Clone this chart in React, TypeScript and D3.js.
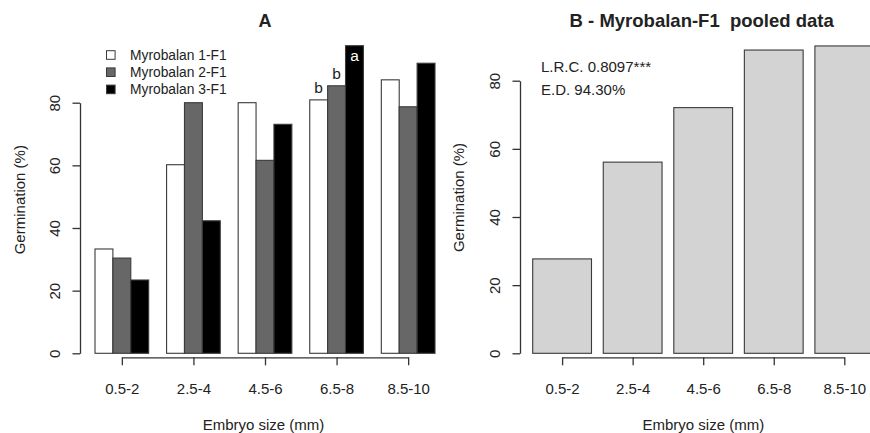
import React, { useEffect, useRef } from "react";
import * as d3 from "d3";

// embryo size classes (mm)
const sizes = ["0.5-2", "2.5-4", "4.5-6", "6.5-8", "8.5-10"];
const seriesNames = ["Myrobalan 1-F1", "Myrobalan 2-F1", "Myrobalan 3-F1"];
const seriesFill = ["#ffffff", "#676767", "#000000"];

// germination (%) per size class
const myro1 = [33.3, 60.2, 80.0, 80.9, 87.3];
const myro2 = [30.4, 80.0, 61.6, 85.4, 78.7];
const myro3 = [23.4, 42.3, 73.1, 98.2, 92.6];
const pooled = [27.7, 56.1, 72.1, 89.0, 90.2];

const yTicks = [0, 20, 40, 60, 80];

// significance letters in panel A
const letters = [
  { size: "6.5-8", series: 0, label: "b" },
  { size: "6.5-8", series: 1, label: "b" },
  { size: "6.5-8", series: 2, label: "a" },
];
const statLines = ["L.R.C. 0.8097***", "E.D. 94.30%"];

const FONT = "'Liberation Sans', Arial, Helvetica, sans-serif";
const INK = "#333";

function yAxis(g, y, x) {
  const ax = g
    .append("g")
    .attr("transform", "translate(" + x + ",0)")
    .call(d3.axisLeft(y).tickValues(yTicks).tickSize(7.5).tickSizeOuter(0));
  ax.select(".domain").attr("stroke", INK).attr("stroke-width", 1.3);
  ax.selectAll(".tick line").attr("stroke", INK).attr("stroke-width", 1.3);
  ax.selectAll(".tick text")
    .attr("transform", "rotate(-90)")
    .attr("x", 0)
    .attr("y", -20)
    .attr("dy", 0)
    .attr("text-anchor", "middle")
    .attr("fill", "#222")
    .style("font-family", FONT)
    .style("font-size", "15px");
}

function xAxis(g, centers, yPos) {
  const p = d3.scalePoint().domain(sizes).range(centers);
  const ax = g
    .append("g")
    .attr("transform", "translate(0," + yPos + ")")
    .call(d3.axisBottom(p).tickSize(8).tickSizeOuter(0));
  ax.select(".domain").attr("stroke", INK).attr("stroke-width", 1.3);
  ax.selectAll(".tick line").attr("stroke", INK).attr("stroke-width", 1.3);
  ax.selectAll(".tick text")
    .attr("y", 36.5)
    .attr("dy", 0)
    .attr("fill", "#222")
    .style("font-family", FONT)
    .style("font-size", "15px");
}

function label(g, text, x, y, opts = {}) {
  const t = g
    .append("text")
    .attr("x", x)
    .attr("y", y)
    .attr("text-anchor", opts.anchor || "middle")
    .attr("fill", opts.fill || "#222")
    .style("font-family", FONT)
    .style("font-size", (opts.size || 15) + "px")
    .style("font-weight", opts.bold ? "bold" : "normal")
    .style("white-space", "pre")
    .text(text);
  if (opts.rotate) t.attr("transform", "rotate(-90," + x + "," + y + ")");
  return t;
}

export default function App() {
  const ref = useRef(null);

  useEffect(() => {
    document.body.style.margin = "0";
    const svg = d3.select(ref.current);
    svg.selectAll("*").remove();

    // ---------- panel A ----------
    const a = svg.append("g");
    const xA = d3.scaleBand().domain(sizes).range([95, 435]).paddingInner(0.25).paddingOuter(0);
    const xInner = d3.scaleBand().domain(d3.range(3)).range([0, xA.bandwidth()]);
    const yA = d3.scaleLinear().domain([0, 80]).range([353.3, 102.7]);
    const dataA = [myro1, myro2, myro3];

    sizes.forEach((s, i) => {
      dataA.forEach((vals, j) => {
        a.append("rect")
          .attr("x", xA(s) + xInner(j))
          .attr("y", yA(vals[i]))
          .attr("width", xInner.bandwidth())
          .attr("height", yA(0) - yA(vals[i]))
          .attr("fill", seriesFill[j])
          .attr("stroke", "#3a3a3a")
          .attr("stroke-width", 1.1);
      });
    });

    letters.forEach(l => {
      const i = sizes.indexOf(l.size);
      const top = yA(dataA[l.series][i]);
      const cx = xA(l.size) + xInner(l.series) + xInner.bandwidth() / 2;
      const inside = l.series === 2;
      label(a, l.label, cx, inside ? top + 15 : top - 7, {
        fill: inside ? "#fff" : "#222",
        size: 15.5,
      });
    });

    yAxis(a, yA, 80);
    xAxis(a, [xA(sizes[0]) + xA.bandwidth() / 2, xA(sizes[4]) + xA.bandwidth() / 2], 357.3);

    // legend
    const leg = a.append("g");
    seriesNames.forEach((n, j) => {
      const cy = 55 + j * 17.2;
      leg.append("rect")
        .attr("x", 106.5)
        .attr("y", cy - 4.3)
        .attr("width", 8.6)
        .attr("height", 8.6)
        .attr("fill", seriesFill[j])
        .attr("stroke", "#3a3a3a")
        .attr("stroke-width", 1);
      label(leg, n, 130, cy + 4.8, { anchor: "start", size: 13.8 });
    });

    label(a, "A", 265, 27, { bold: true, size: 18 });
    label(a, "Embryo size (mm)", 263.5, 430);
    label(a, "Germination (%)", 25.5, 199.7, { rotate: true });

    // ---------- panel B ----------
    const b = svg.append("g");
    const xB = d3.scaleBand().domain(sizes).range([532.7, 873.7]).paddingInner(0.2 / 1.2).paddingOuter(0);
    const yB = d3.scaleLinear().domain([0, 80]).range([353.3, 80.7]);

    b.selectAll(".bar")
      .data(pooled)
      .enter()
      .append("rect")
      .attr("class", "bar")
      .attr("x", (d, i) => xB(sizes[i]))
      .attr("y", d => yB(d))
      .attr("width", xB.bandwidth())
      .attr("height", d => yB(0) - yB(d))
      .attr("fill", "#d3d3d3")
      .attr("stroke", "#3a3a3a")
      .attr("stroke-width", 1.1);

    yAxis(b, yB, 520);
    xAxis(b, [xB(sizes[0]) + xB.bandwidth() / 2, xB(sizes[4]) + xB.bandwidth() / 2], 357.3);

    statLines.forEach((s, i) => {
      label(b, s, 541, 72 + i * 22.6, { anchor: "start" });
    });

    label(b, "B - Myrobalan-F1  pooled data", 701.7, 27, { bold: true, size: 18.5 });
    label(b, "Embryo size (mm)", 703.3, 430);
    label(b, "Germination (%)", 464, 197.5, { rotate: true });
  }, []);

  return <svg ref={ref} width="870" height="433" style={{ display: "block", background: "#fff" }} />;
}
